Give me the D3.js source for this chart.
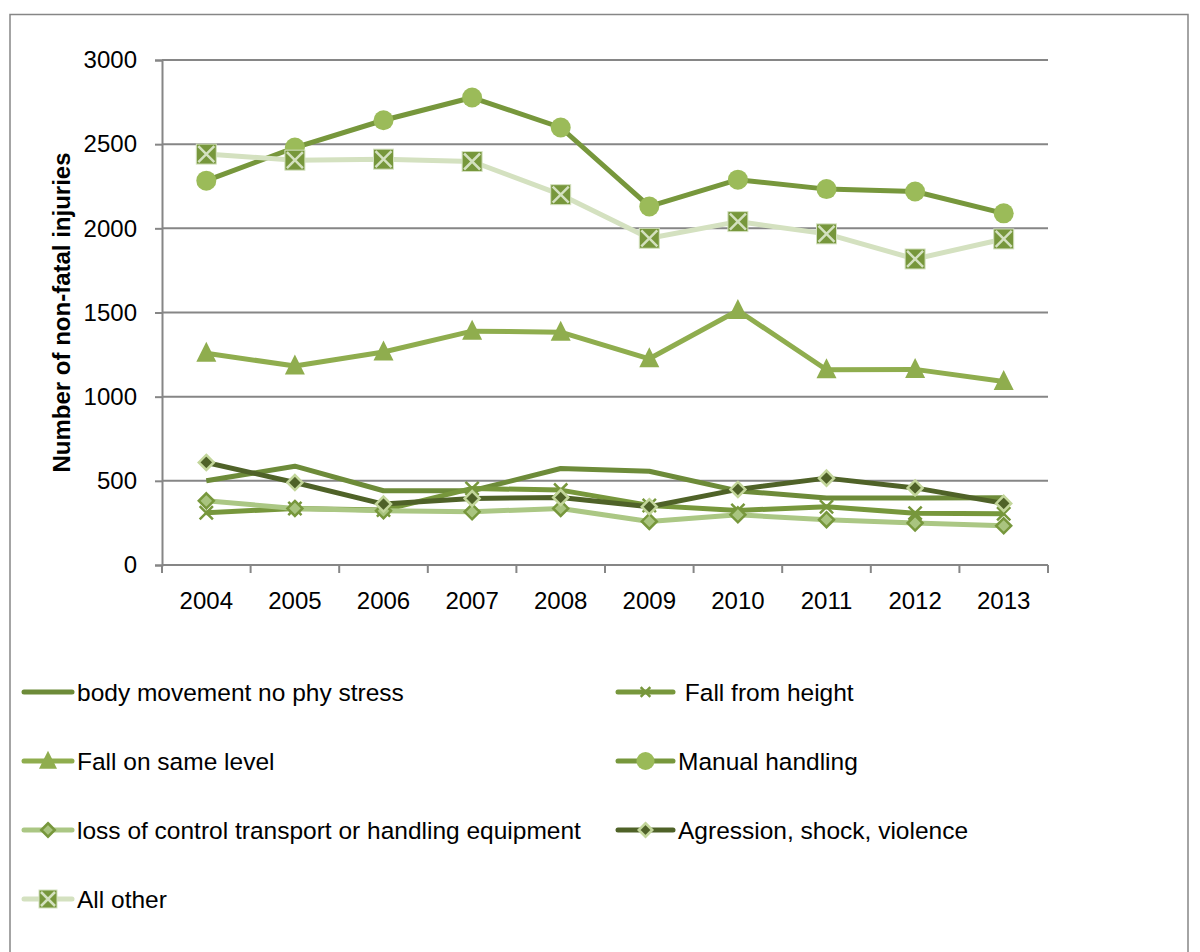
<!DOCTYPE html>
<html>
<head>
<meta charset="utf-8">
<script src="https://cdn.jsdelivr.net/npm/d3@7"></script>
<style>
  body { margin: 0; background: #fff; }
  svg { display: block; }
  text { font-family: "Liberation Sans", Arial, sans-serif; fill: #000; }
</style>
</head>
<body>
<svg id="chart" width="1200" height="952"></svg>
<script>
const years = ["2004","2005","2006","2007","2008","2009","2010","2011","2012","2013"];
const yTicks = [0, 500, 1000, 1500, 2000, 2500, 3000];

const bodyMovement   = [500, 587, 441, 441, 573, 557, 440, 398, 398, 400];
const fallFromHeight = [310, 336, 326, 455, 445, 354, 324, 346, 308, 304];
const fallSameLevel  = [1258, 1182, 1265, 1389, 1383, 1225, 1512, 1160, 1162, 1090];
const manualHandling = [2283, 2480, 2642, 2777, 2599, 2130, 2289, 2233, 2219, 2089];
const lossOfControl  = [381, 336, 322, 316, 336, 259, 298, 269, 249, 233];
const agression      = [609, 490, 362, 395, 401, 346, 449, 516, 458, 366];
const allOther       = [2441, 2405, 2411, 2397, 2200, 1941, 2040, 1967, 1818, 1937];

const series = [
  { name: "body movement no phy stress", values: bodyMovement, line: "#6d8b39", marker: "none" },
  { name: " Fall from height", values: fallFromHeight, line: "#77973c", marker: "x", fill: "#77973c" },
  { name: "Fall on same level", values: fallSameLevel, line: "#8fad4e", marker: "triangle", fill: "#8fad4e" },
  { name: "Manual handling", values: manualHandling, line: "#77973c", marker: "circle", fill: "#9bbb59" },
  { name: "loss of control transport or handling equipment", values: lossOfControl, line: "#abc784", marker: "diamond", fill: "#a9c47f", stroke: "#77973c" },
  { name: "Agression, shock, violence", values: agression, line: "#4f6228", marker: "diamond", fill: "#4f6228", stroke: "#c3d69b" },
  { name: "All other", values: allOther, line: "#d4e1c0", marker: "square", fill: "#77973c", stroke: "#d4e1c0" }
];

const svg = d3.select("#chart");
const margin = { top: 60, right: 152, bottom: 387, left: 162 };
const width = 1200 - margin.left - margin.right;
const height = 952 - margin.top - margin.bottom;

// outer frame
svg.append("rect")
  .attr("x", 10).attr("y", 14.5)
  .attr("width", 1178).attr("height", 960)
  .attr("fill", "none")
  .attr("stroke", "#868686")
  .attr("stroke-width", 1.5);

const g = svg.append("g").attr("transform", `translate(${margin.left},${margin.top})`);

const x = d3.scaleBand().domain(years).range([0, width]);
const y = d3.scaleLinear().domain([0, 3000]).range([height, 0]);
const cx = d => x(d) + x.bandwidth() / 2;

// gridlines
g.append("g")
  .selectAll("line")
  .data(yTicks.filter(t => t > 0))
  .join("line")
  .attr("x1", 0).attr("x2", width)
  .attr("y1", d => y(d)).attr("y2", d => y(d))
  .attr("stroke", "#868686")
  .attr("stroke-width", 2);

// y axis
const yAxis = g.append("g")
  .call(d3.axisLeft(y).tickValues(yTicks).tickFormat(d3.format("d")).tickSize(7).tickPadding(18));
yAxis.select(".domain").attr("stroke", "#868686").attr("stroke-width", 2);
yAxis.selectAll(".tick line").attr("stroke", "#868686").attr("stroke-width", 2);
yAxis.selectAll(".tick text")
  .style("font-size", "24px")
  .style("font-family", "Liberation Sans, Arial, sans-serif")
  .attr("fill", "#000");

// x axis, ticks between categories
const xAxis = g.append("g").attr("transform", `translate(0,${height})`);
xAxis.append("line")
  .attr("x1", 0).attr("x2", width)
  .attr("stroke", "#868686").attr("stroke-width", 2);
xAxis.selectAll(".xtick")
  .data(years.concat(["end"]))
  .join("line")
  .attr("class", "xtick")
  .attr("x1", (d, i) => i < years.length ? x(d) : width)
  .attr("x2", (d, i) => i < years.length ? x(d) : width)
  .attr("y1", 0).attr("y2", 8)
  .attr("stroke", "#868686").attr("stroke-width", 2);
xAxis.selectAll(".xlabel")
  .data(years)
  .join("text")
  .attr("class", "xlabel")
  .attr("x", d => cx(d))
  .attr("y", 44)
  .attr("text-anchor", "middle")
  .style("font-size", "24px")
  .text(d => d);

// y axis title
svg.append("text")
  .attr("transform", `translate(70,${margin.top + height / 2}) rotate(-90)`)
  .attr("text-anchor", "middle")
  .style("font-size", "24px")
  .style("font-weight", "bold")
  .text("Number of non-fatal injuries");

function drawMarker(sel, s, size) {
  const r = size / 2;
  if (s.marker === "circle") {
    sel.append("circle").attr("r", r).attr("fill", s.fill);
  } else if (s.marker === "triangle") {
    sel.append("path")
      .attr("d", `M0,${-r * 1.15}L${r},${r * 0.85}L${-r},${r * 0.85}Z`)
      .attr("fill", s.fill);
  } else if (s.marker === "diamond") {
    const d = r * 0.75;
    sel.append("path")
      .attr("d", `M0,${-d}L${d},0L0,${d}L${-d},0Z`)
      .attr("fill", s.fill)
      .attr("stroke", s.stroke)
      .attr("stroke-width", 2.5);
  } else if (s.marker === "square") {
    sel.append("rect")
      .attr("x", -r).attr("y", -r).attr("width", size).attr("height", size)
      .attr("fill", s.fill).attr("stroke", s.stroke).attr("stroke-width", 1);
    sel.append("path")
      .attr("d", `M${-r + 2},${-r + 2}L${r - 2},${r - 2}M${r - 2},${-r + 2}L${-r + 2},${r - 2}`)
      .attr("stroke", s.stroke).attr("stroke-width", 2.5);
  } else if (s.marker === "x") {
    const d = r * 0.6;
    sel.append("path")
      .attr("d", `M${-d},${-d}L${d},${d}M${d},${-d}L${-d},${d}`)
      .attr("stroke", s.fill).attr("stroke-width", 2.5);
  }
}

const line = d3.line().x((d, i) => cx(years[i])).y(d => y(d));

series.forEach(s => {
  const sg = g.append("g");
  sg.append("path")
    .datum(s.values)
    .attr("d", line)
    .attr("fill", "none")
    .attr("stroke", s.line)
    .attr("stroke-width", 5)
    .attr("stroke-linejoin", "round");
  if (s.marker !== "none") {
    const size = s.marker === "x" ? 22 : 20;
    sg.selectAll(".m")
      .data(s.values)
      .join("g")
      .attr("class", "m")
      .attr("transform", (d, i) => `translate(${cx(years[i])},${y(d)})`)
      .each(function () { drawMarker(d3.select(this), s, size); });
  }
});

// legend
const legendCols = [{ x: 24, len: 48 }, { x: 618, len: 55 }];
const legendRows = [692, 761, 830, 899];
const legend = svg.append("g");
series.forEach((s, i) => {
  const col = legendCols[i % 2];
  const ly = legendRows[Math.floor(i / 2)];
  const item = legend.append("g").attr("transform", `translate(${col.x},${ly})`);
  item.append("line")
    .attr("x1", 0).attr("x2", col.len)
    .attr("stroke", s.line).attr("stroke-width", 5)
    .attr("stroke-linecap", "round");
  if (s.marker !== "none") {
    const m = item.append("g").attr("transform", `translate(${col.len / 2},0)`);
    drawMarker(m, s, s.marker === "x" ? 16 : 18);
  }
  item.append("text")
    .attr("x", col.len + 5)
    .attr("y", 0)
    .attr("dy", "0.35em")
    .style("font-size", "24.5px")
    .style("white-space", "pre")
    .text(s.name);
});
</script>
</body>
</html>
